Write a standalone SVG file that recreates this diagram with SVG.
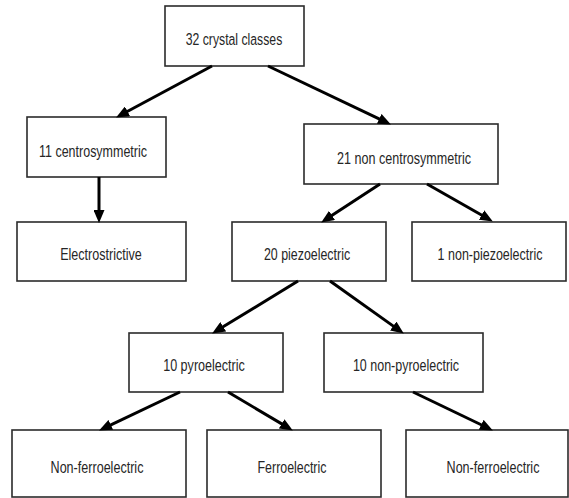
<svg xmlns="http://www.w3.org/2000/svg" width="569" height="498" viewBox="0 0 569 498">
<style>
  .box { fill: #ffffff; stroke: #2b2b2b; stroke-width: 1.6; }
  .lbl { font-family: "Liberation Sans", Arial, sans-serif; font-size: 17px; fill: #262626; text-anchor: middle; }
  .arr { stroke: #000000; stroke-width: 3; fill: none; marker-end: url(#ah); }
</style>
<defs>
  <marker id="ah" markerUnits="userSpaceOnUse" markerWidth="13" markerHeight="11" refX="4" refY="5.5" orient="auto">
    <path d="M0,0 L13,5.5 L0,11 z" fill="#000000"/>
  </marker>
</defs>
<rect width="569" height="498" fill="#ffffff"/>
<g id="n32"><rect class="box" x="165" y="6" width="139" height="60"/><text class="lbl" transform="translate(234,45) scale(0.72,1)">32 crystal classes</text></g>
<g id="n11"><rect class="box" x="27" y="117" width="139" height="60"/><text class="lbl" transform="translate(93,157) scale(0.735,1)">11 centrosymmetric</text></g>
<g id="n21"><rect class="box" x="304" y="124" width="194" height="60"/><text class="lbl" transform="translate(404,164) scale(0.74,1)">21 non centrosymmetric</text></g>
<g id="elec"><rect class="box" x="17" y="222" width="169" height="59"/><text class="lbl" transform="translate(101,260) scale(0.74,1)">Electrostrictive</text></g>
<g id="n20"><rect class="box" x="232" y="222" width="154" height="59"/><text class="lbl" transform="translate(307,260) scale(0.73,1)">20 piezoelectric</text></g>
<g id="n1"><rect class="box" x="412" y="222" width="154" height="59"/><text class="lbl" transform="translate(490,260) scale(0.735,1)">1 non-piezoelectric</text></g>
<g id="pyro"><rect class="box" x="129" y="333" width="154" height="59"/><text class="lbl" transform="translate(204,371) scale(0.74,1)">10 pyroelectric</text></g>
<g id="nonpyro"><rect class="box" x="324" y="333" width="159" height="59"/><text class="lbl" transform="translate(406,371) scale(0.735,1)">10 non-pyroelectric</text></g>
<g id="nf1"><rect class="box" x="12" y="430" width="174" height="67"/><text class="lbl" transform="translate(97,473) scale(0.74,1)">Non-ferroelectric</text></g>
<g id="fe"><rect class="box" x="207" y="430" width="174" height="67"/><text class="lbl" transform="translate(292,473) scale(0.73,1)">Ferroelectric</text></g>
<g id="nf2"><rect class="box" x="406" y="430" width="162" height="67"/><text class="lbl" transform="translate(493,473) scale(0.74,1)">Non-ferroelectric</text></g>
<g id="connectors">
  <line class="arr" x1="212" y1="66" x2="124.0" y2="113.2"/>
  <line class="arr" x1="268" y1="66" x2="382.8" y2="120.6"/>
  <line class="arr" x1="99" y1="177" x2="99" y2="214"/>
  <line class="arr" x1="380" y1="184" x2="328.7" y2="217.6"/>
  <line class="arr" x1="427" y1="184" x2="485.0" y2="217.0"/>
  <line class="arr" x1="298" y1="281" x2="219.8" y2="328.8"/>
  <line class="arr" x1="330" y1="281" x2="396.5" y2="328.4"/>
  <line class="arr" x1="180" y1="392" x2="107.2" y2="426.6"/>
  <line class="arr" x1="228" y1="392" x2="285.1" y2="425.9"/>
  <line class="arr" x1="413" y1="392" x2="484.8" y2="426.5"/>
</g>
</svg>
